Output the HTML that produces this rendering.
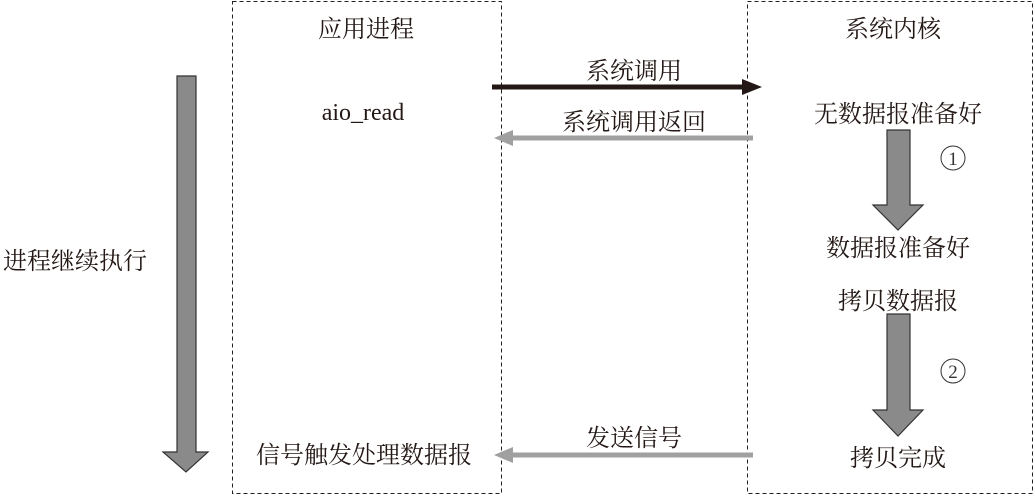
<html><head><style>
body{margin:0;background:#fff;width:1035px;height:496px;overflow:hidden;position:relative;font-family:"Liberation Serif","Noto Serif CJK SC",serif;color:#231815}
.t{position:absolute;font-size:24px;white-space:nowrap;transform:translateX(-50%)}
</style></head><body>
<svg width="1035" height="496" style="position:absolute;left:0;top:0">
<rect x="232.5" y="1.5" width="269" height="492" fill="none" stroke="#222" stroke-dasharray="4,3"/>
<rect x="747.5" y="1.5" width="285" height="492" fill="none" stroke="#222" stroke-dasharray="4,3"/>
<polygon points="177,76 196,76 196,452 208,452 186,472 163,452 177,452" fill="#8a8a8a" stroke="#333" stroke-width="1.2"/>
<polygon points="887,130 910,130 910,205 923,205 898,230 873,205 887,205" fill="#8a8a8a" stroke="#333" stroke-width="1.2"/>
<polygon points="887,314 910,314 910,410 923,410 898,436 873,410 887,410" fill="#8a8a8a" stroke="#333" stroke-width="1.2"/>
<line x1="492" y1="87" x2="745" y2="87" stroke="#231815" stroke-width="5"/>
<polygon points="742,79 762,87 742,95" fill="#231815"/>
<line x1="753" y1="138" x2="510" y2="138" stroke="#a0a0a0" stroke-width="5"/>
<polygon points="513,130 494,138 513,146" fill="#a0a0a0"/>
<line x1="753" y1="455" x2="510" y2="455" stroke="#a0a0a0" stroke-width="5"/>
<polygon points="513,447 494,455 513,463" fill="#a0a0a0"/>
<circle cx="953" cy="158" r="12" fill="none" stroke="#333"/>
<text x="953" y="165" font-size="19" text-anchor="middle" fill="#333">1</text>
<circle cx="953" cy="371" r="12" fill="none" stroke="#333"/>
<text x="953" y="378" font-size="19" text-anchor="middle" fill="#333">2</text>
</svg>
<div class="t" style="left:366px;top:9px">应用进程</div>
<div class="t" style="left:893px;top:9px">系统内核</div>
<div class="t" style="left:634px;top:51px">系统调用</div>
<div class="t" style="left:634px;top:102px">系统调用返回</div>
<div class="t" style="left:363px;top:100px">aio_read</div>
<div class="t" style="left:898px;top:94px">无数据报准备好</div>
<div class="t" style="left:898px;top:228px">数据报准备好</div>
<div class="t" style="left:898px;top:281px">拷贝数据报</div>
<div class="t" style="left:898px;top:438px">拷贝完成</div>
<div class="t" style="left:634px;top:418px">发送信号</div>
<div class="t" style="left:364px;top:435px">信号触发处理数据报</div>
<div class="t" style="left:75px;top:241px">进程继续执行</div>
</body></html>
